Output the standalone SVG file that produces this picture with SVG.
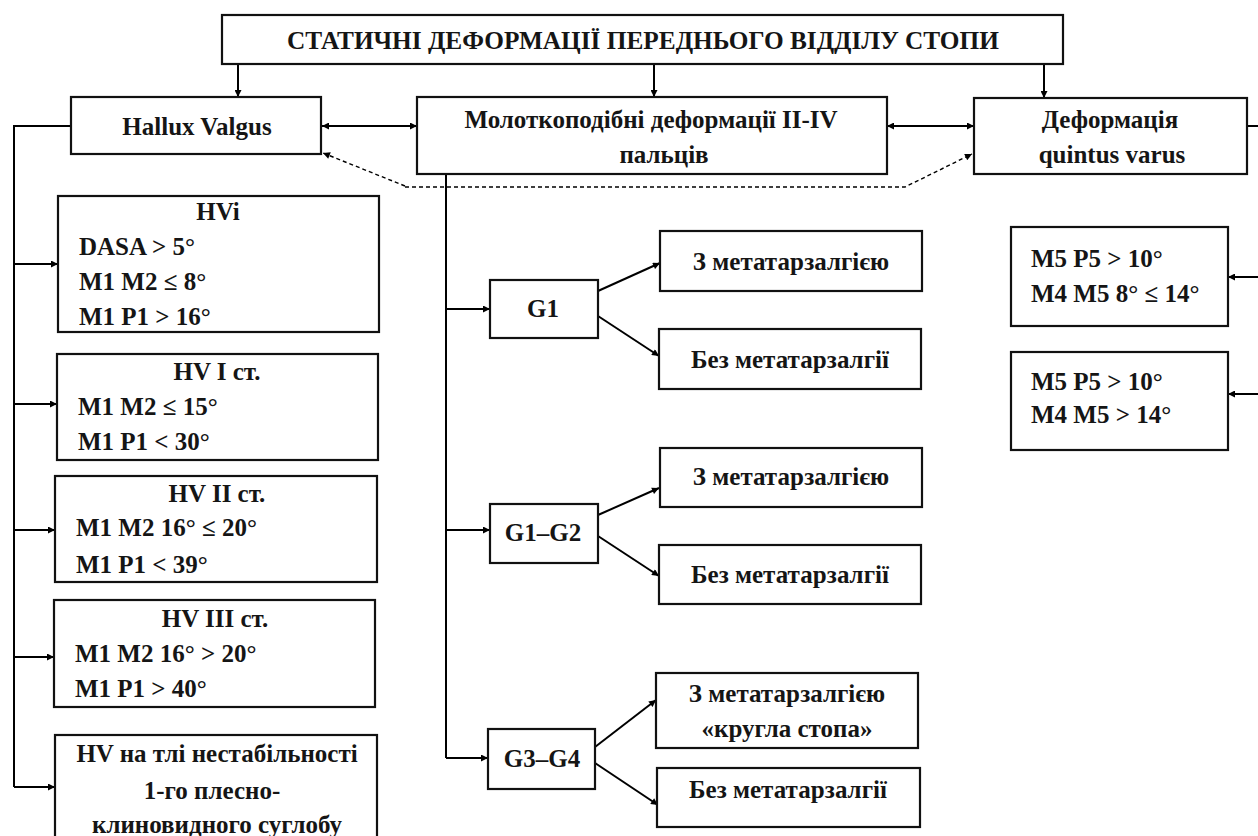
<svg xmlns="http://www.w3.org/2000/svg" width="1258" height="836" viewBox="0 0 1258 836">
<defs>
<marker id="ah" viewBox="0 0 10 10" refX="10" refY="5" markerWidth="9" markerHeight="7" markerUnits="userSpaceOnUse" orient="auto-start-reverse">
<path d="M0,0 L10,5 L0,10 z" fill="#000"/>
</marker>
</defs>
<style>
rect.b{fill:#fff;stroke:#111;stroke-width:2.2}
text{font-family:'Liberation Serif','DejaVu Serif',serif;font-weight:700;fill:#151515}
.t{font-size:25.3px}
.m{font-size:25px}
.c{text-anchor:middle}
.ln{fill:none;stroke:#000;stroke-width:2}
.ar{fill:none;stroke:#000;stroke-width:2;marker-end:url(#ah)}
.da{fill:none;stroke:#000;stroke-width:2;marker-start:url(#ah);marker-end:url(#ah)}
.ds{fill:none;stroke:#000;stroke-width:1.4;stroke-dasharray:4 3;marker-end:url(#ah)}
</style>
<rect width="1258" height="836" fill="#fff"/>

<g id="connectors">
<path class="ar" d="M238,64 V97"/>
<path class="ar" d="M654,64 V97"/>
<path class="ar" d="M1044,64 V98"/>
<path class="da" d="M322,126 H417"/>
<path class="da" d="M887,126 H974"/>
<path class="ds" d="M405,186 L323,153"/>
<path class="ds" d="M405,187 H905 L972,154"/>
<path class="ln" d="M71,126 H14 V787"/>
<path class="ar" d="M14,264 H58"/>
<path class="ar" d="M14,404 H57"/>
<path class="ar" d="M14,530 H55"/>
<path class="ar" d="M14,657 H54"/>
<path class="ar" d="M14,787 H55"/>
<path class="ln" d="M446,174 V758"/>
<path class="ar" d="M446,309 H490"/>
<path class="ar" d="M446,530 H490"/>
<path class="ar" d="M446,758 H488"/>
<path class="ar" d="M598,291 L660,263"/>
<path class="ar" d="M598,316 L659,356"/>
<path class="ar" d="M598,515 L659,488"/>
<path class="ar" d="M598,536 L659,576"/>
<path class="ar" d="M595,747 L656,700"/>
<path class="ar" d="M595,763 L658,805"/>
<path class="ln" d="M1247,126 H1258"/>
<path class="ar" d="M1258,277 H1228"/>
<path class="ar" d="M1258,394 H1228"/>
</g>

<g id="title">
<rect class="b" x="222" y="15" width="841" height="49"/>
<text class="t c" x="643" y="49">СТАТИЧНІ ДЕФОРМАЦІЇ ПЕРЕДНЬОГО ВІДДІЛУ СТОПИ</text>
</g>

<g id="hallux">
<rect class="b" x="71" y="97" width="250" height="57"/>
<text class="m c" x="197" y="135">Hallux Valgus</text>
</g>

<g id="hammer">
<rect class="b" x="417" y="97" width="470" height="77"/>
<text class="m c" x="651" y="128">Молоткоподібні деформації II-IV</text>
<text class="m c" x="664" y="163">пальців</text>
</g>

<g id="quintus">
<rect class="b" x="974" y="98" width="273" height="76"/>
<text class="m c" x="1110" y="128">Деформація</text>
<text class="m c" x="1112" y="163">quintus varus</text>
</g>

<g id="hvi">
<rect class="b" x="58" y="196" width="321" height="136"/>
<text class="m c" x="218" y="220">HVi</text>
<text class="m" x="79" y="255">DASA &gt; 5°</text>
<text class="m" x="79" y="290">M1 M2 ≤ 8°</text>
<text class="m" x="79" y="325">M1 P1 &gt; 16°</text>
</g>

<g id="hv1">
<rect class="b" x="57" y="354" width="321" height="106"/>
<text class="m c" x="217" y="380">HV I ст.</text>
<text class="m" x="78" y="415">M1 M2 ≤ 15°</text>
<text class="m" x="78" y="450">M1 P1 &lt; 30°</text>
</g>

<g id="hv2">
<rect class="b" x="55" y="476" width="322" height="106"/>
<text class="m c" x="217" y="502">HV II ст.</text>
<text class="m" x="76" y="536">M1 M2 16° ≤ 20°</text>
<text class="m" x="76" y="573">M1 P1 &lt; 39°</text>
</g>

<g id="hv3">
<rect class="b" x="54" y="600" width="321" height="107"/>
<text class="m c" x="215" y="627">HV III ст.</text>
<text class="m" x="75" y="662">M1 M2 16° &gt; 20°</text>
<text class="m" x="75" y="697">M1 P1 &gt; 40°</text>
</g>

<g id="hv4">
<rect class="b" x="55" y="735" width="322" height="120"/>
<text class="m c" x="217" y="762">HV на тлі нестабільності</text>
<text class="m c" x="212" y="799">1-го плесно-</text>
<text class="m c" x="217" y="833">клиновидного суглобу</text>
</g>

<g id="g1">
<rect class="b" x="490" y="280" width="108" height="58"/>
<text class="m c" x="543" y="317">G1</text>
</g>
<g id="g12">
<rect class="b" x="490" y="504" width="108" height="59"/>
<text class="m c" x="543" y="541">G1–G2</text>
</g>
<g id="g34">
<rect class="b" x="488" y="729" width="107" height="60"/>
<text class="m c" x="542" y="767">G3–G4</text>
</g>

<g id="b1">
<rect class="b" x="660" y="231" width="262" height="60"/>
<text class="m c" x="791" y="270">З метатарзалгією</text>
</g>
<g id="b2">
<rect class="b" x="659" y="329" width="262" height="60"/>
<text class="m c" x="790" y="368">Без метатарзалгії</text>
</g>
<g id="b3">
<rect class="b" x="660" y="448" width="262" height="59"/>
<text class="m c" x="791" y="485">З метатарзалгією</text>
</g>
<g id="b4">
<rect class="b" x="659" y="545" width="262" height="59"/>
<text class="m c" x="790" y="583">Без метатарзалгії</text>
</g>
<g id="b5">
<rect class="b" x="656" y="673" width="262" height="75"/>
<text class="m c" x="787" y="702">З метатарзалгією</text>
<text class="m c" x="787" y="737">«кругла стопа»</text>
</g>
<g id="b6">
<rect class="b" x="657" y="768" width="263" height="59"/>
<text class="m c" x="788" y="798">Без метатарзалгії</text>
</g>

<g id="r1">
<rect class="b" x="1011" y="227" width="217" height="99"/>
<text class="m" x="1031" y="267">M5 P5 &gt; 10°</text>
<text class="m" x="1031" y="302">M4 M5 8° ≤ 14°</text>
</g>
<g id="r2">
<rect class="b" x="1011" y="352" width="217" height="98"/>
<text class="m" x="1031" y="390">M5 P5 &gt; 10°</text>
<text class="m" x="1031" y="423">M4 M5 &gt; 14°</text>
</g>
</svg>
